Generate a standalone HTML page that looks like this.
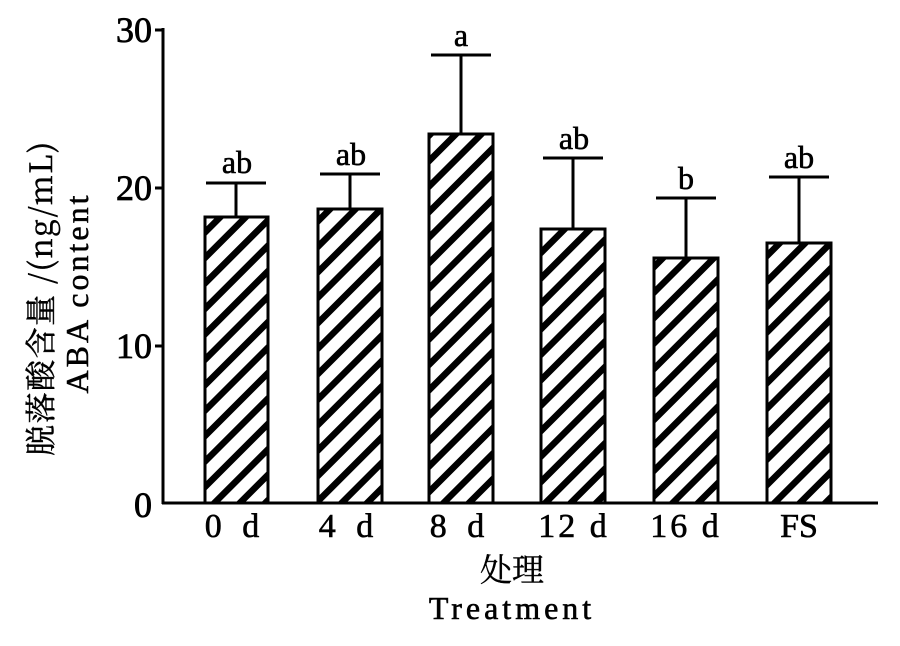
<!DOCTYPE html>
<html><head><meta charset="utf-8"><style>body{margin:0;background:#fff}</style></head><body>
<svg width="900" height="641" xmlns="http://www.w3.org/2000/svg" font-family="'Liberation Serif','Noto Serif CJK SC',serif">
<defs>
<pattern id="h" patternUnits="userSpaceOnUse" width="18" height="18" patternTransform="rotate(45)">
<rect x="0" y="0" width="6.5" height="18" fill="#000"/>
</pattern>
</defs>
<g stroke="#000" stroke-width="3" fill="none">
<line x1="163" y1="28" x2="163" y2="504"/>
<line x1="162" y1="503" x2="878" y2="503"/>
<line x1="155" y1="30" x2="163" y2="30"/>
<line x1="155" y1="188" x2="163" y2="188"/>
<line x1="155" y1="346" x2="163" y2="346"/>
</g>
<g font-size="36" text-anchor="end" stroke="#000" stroke-width="0.8">
<text x="152" y="42">30</text>
<text x="152" y="200">20</text>
<text x="152" y="358">10</text>
<text x="152" y="517">0</text>
</g>
<g stroke="#000" stroke-width="3">
<line x1="236" y1="217" x2="236" y2="183"/><line x1="206" y1="183" x2="266" y2="183"/>
<line x1="350" y1="209" x2="350" y2="174"/><line x1="320" y1="174" x2="380" y2="174"/>
<line x1="461" y1="134" x2="461" y2="55"/><line x1="431" y1="55" x2="491" y2="55"/>
<line x1="573" y1="229" x2="573" y2="158"/><line x1="543" y1="158" x2="603" y2="158"/>
<line x1="686" y1="258" x2="686" y2="198"/><line x1="656" y1="198" x2="716" y2="198"/>
<line x1="799" y1="243" x2="799" y2="177"/><line x1="769" y1="177" x2="829" y2="177"/>
</g>
<g fill="url(#h)" stroke="#000" stroke-width="3">
<rect x="205" y="217" width="63" height="286"/>
<rect x="318" y="209" width="64" height="294"/>
<rect x="429" y="134" width="64" height="369"/>
<rect x="541" y="229" width="64" height="274"/>
<rect x="654" y="258" width="64" height="245"/>
<rect x="767" y="243" width="64" height="260"/>
</g>
<g font-size="32" text-anchor="middle" stroke="#000" stroke-width="0.6">
<text x="237" y="173">ab</text>
<text x="351" y="165">ab</text>
<text x="461" y="46">a</text>
<text x="574" y="149">ab</text>
<text x="686" y="189">b</text>
<text x="799" y="168">ab</text>
</g>
<g font-size="34" text-anchor="middle" stroke="#000" stroke-width="0.6">
<text x="235" y="537" letter-spacing="6">0 d</text>
<text x="349" y="537" letter-spacing="6">4 d</text>
<text x="460" y="537" letter-spacing="6">8 d</text>
<text x="574" y="537" letter-spacing="3">12 d</text>
<text x="686" y="537" letter-spacing="3">16 d</text>
<text x="799" y="537">FS</text>
<text x="512" y="581" font-family="'Noto Serif CJK SC',serif" font-size="32" stroke-width="0.4">处理</text>
<text x="512" y="619" font-size="32" letter-spacing="4">Treatment</text>
</g>
<g font-size="32" text-anchor="middle" stroke="#000" stroke-width="0.5">
<text transform="translate(52,298) rotate(-90)" font-family="'Noto Serif CJK SC',serif" font-size="31" letter-spacing="1.5">脱落酸含量 /(ng/mL)</text>
<text transform="translate(88,293) rotate(-90)" letter-spacing="3">ABA content</text>
</g>
</svg>
</body></html>
